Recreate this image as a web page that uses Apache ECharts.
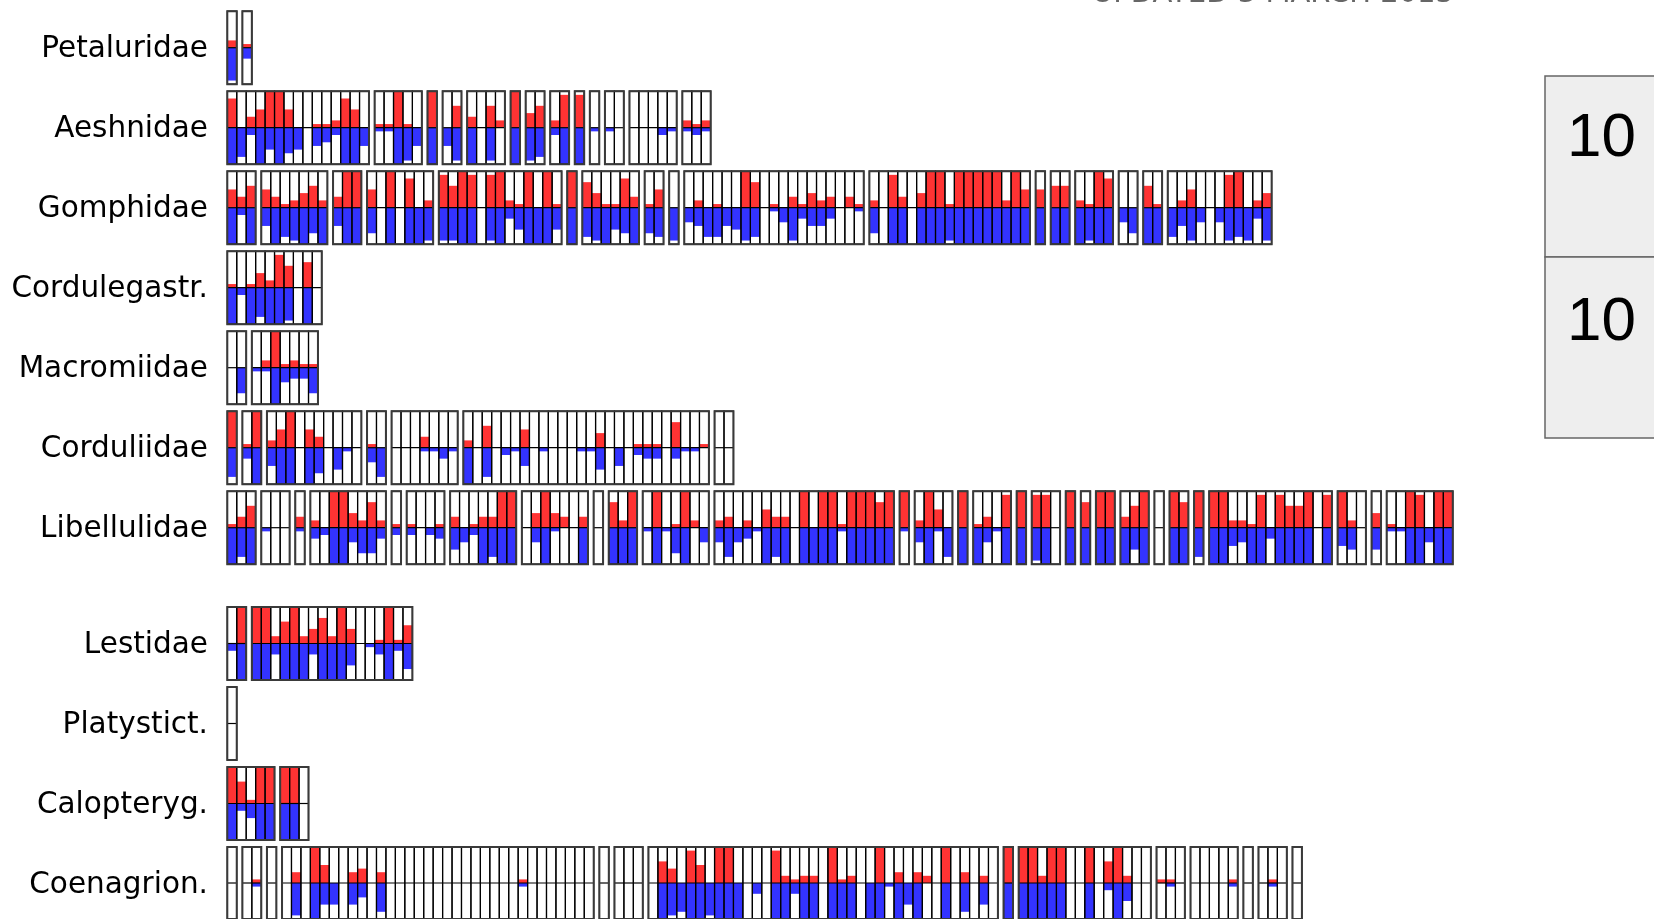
<!DOCTYPE html>
<html>
<head>
<meta charset="utf-8">
<script src="https://cdn.jsdelivr.net/npm/echarts@6/dist/echarts.min.js"></script>
<style>
html,body{margin:0;padding:0;background:#fff;}
#chart{width:1654px;height:919px;}
</style>
</head>
<body>
<div id="chart"></div>
<script>
// ---- DATA: each family = list of genus groups, each group = list of [red, blue] per species (0..10)
const FAMILIES = ['Petaluridae','Aeshnidae','Gomphidae','Cordulegastr.','Macromiidae','Corduliidae','Libellulidae','Lestidae','Platystict.','Calopteryg.','Coenagrion.'];

const PETALURIDAE = [[[2,9]],[[1,3]]];

const AESHNIDAE = [
 [[8,10],[0,8],[3,2],[5,10],[10,6],[10,10],[5,7],[0,6],[0,0],[1,5],[1,4],[2,2],[8,10],[5,10],[0,5]],
 [[1,1],[1,1],[10,10],[1,9],[0,5]],
 [[10,10]],
 [[0,5],[6,9]],
 [[3,10],[0,0],[6,9],[2,0]],
 [[10,10]],
 [[4,9],[6,8]],
 [[2,2],[9,10]],
 [[9,10]],
 [[0,1]],
 [[0,1],[0,0]],
 [[0,0],[0,0],[0,0],[0,2],[0,1]],
 [[2,1],[1,2],[2,1]]
];

const GOMPHIDAE = [
 [[5,10],[3,2],[6,10]],
 [[5,5],[3,10],[1,8],[2,9],[4,10],[6,7],[2,10]],
 [[3,5],[10,10],[10,10]],
 [[5,7],[0,0],[10,10],[0,0],[8,10],[0,10],[2,9]],
 [[9,9],[6,9],[10,10],[9,10],[0,0],[9,9],[10,10],[2,3],[1,6],[10,10],[0,10],[10,10],[1,6]],
 [[10,10]],
 [[7,8],[4,9],[1,10],[1,6],[8,7],[3,10]],
 [[1,7],[5,8]],
 [[0,9]],
 [[0,4],[2,5],[0,8],[1,8],[0,5],[0,6],[10,9],[7,8],[0,0],[1,1],[0,4],[3,9],[1,3],[4,5],[2,5],[3,3],[0,0],[3,0],[1,1]],
 [[2,7],[0,0],[9,10],[3,10],[0,0],[4,10],[10,10],[10,10],[1,9],[10,10],[10,10],[10,10],[10,10],[10,10],[2,10],[10,10],[5,10]],
 [[5,10]],
 [[6,10],[6,10]],
 [[2,10],[1,9],[10,10],[8,10]],
 [[0,4],[0,7]],
 [[6,10],[1,10]],
 [[0,8],[2,5],[5,9],[0,4],[0,0],[0,4],[9,9],[10,8],[0,9],[2,3],[4,9]]
];

const CORDULEGASTR = [
 [[1,10],[0,2],[1,10],[4,8],[2,10],[9,10],[6,9],[0,0],[7,10],[0,0]]
];

const MACROMIIDAE = [
 [[0,0],[0,7]],
 [[0,1],[2,1],[10,10],[1,4],[2,3],[1,3],[1,7]]
];

const CORDULIIDAE = [
 [[10,8]],
 [[1,3],[10,10]],
 [[2,5],[5,10],[10,10],[0,0],[5,10],[3,7],[0,0],[0,6],[0,1],[0,0]],
 [[1,4],[0,8]],
 [[0,0],[0,0],[0,0],[3,1],[0,1],[0,3],[0,1]],
 [[2,10],[0,0],[6,8],[0,0],[0,2],[0,1],[5,5],[0,0],[0,1],[0,0],[0,0],[0,0],[0,1],[0,1],[4,6],[0,0],[0,5],[0,0],[1,2],[1,3],[1,3],[0,0],[7,3],[0,1],[0,1],[1,0]],
 [[0,0],[0,0]]
];

const LIBELLULIDAE = [
 [[1,10],[3,8],[6,10]],
 [[0,1],[0,0],[0,0]],
 [[3,1]],
 [[2,3],[0,2],[10,10],[10,10],[4,4],[2,7],[7,7],[2,3]],
 [[1,2]],
 [[1,2],[0,0],[0,2],[1,3]],
 [[3,6],[0,4],[1,2],[3,10],[3,8],[10,10],[10,10]],
 [[0,0],[4,4],[10,10],[4,1],[3,0],[0,0],[3,10]],
 [[0,0]],
 [[7,10],[2,10],[10,10]],
 [[0,1],[10,10],[0,1],[1,7],[10,10],[2,0],[0,4]],
 [[2,4],[3,8],[0,4],[2,3],[0,1],[5,10],[3,8],[3,10],[0,0],[10,10],[0,10],[10,10],[10,10],[1,1],[10,10],[10,10],[10,10],[7,10],[10,10]],
 [[10,1]],
 [[2,4],[10,10],[5,1],[0,8]],
 [[10,10]],
 [[1,10],[3,4],[0,1],[9,10]],
 [[10,10]],
 [[9,9],[9,10],[0,0]],
 [[10,10]],
 [[7,10]],
 [[10,10],[10,10]],
 [[3,10],[6,6],[10,10]],
 [[0,0]],
 [[10,10],[7,10]],
 [[10,8]],
 [[10,10],[10,10],[2,5],[2,4],[1,10],[9,10],[0,3],[9,10],[6,10],[6,10],[10,10],[0,0],[9,10]],
 [[10,5],[2,6],[0,0]],
 [[4,6]],
 [[1,1],[0,1],[10,10],[9,10],[0,4],[10,10],[10,10]]
];

const LESTIDAE = [
 [[0,2],[10,10]],
 [[10,10],[10,10],[2,3],[6,10],[10,10],[2,10],[4,3],[7,10],[2,10],[10,10],[4,6],[0,0],[0,1],[1,3],[10,10],[1,2],[5,7]]
];

const PLATYSTICT = [[[0,0]]];

const CALOPTERYG = [
 [[10,10],[6,2],[1,4],[10,10],[10,10]],
 [[10,10],[10,10],[0,0]]
];

const COENAGRION = [
 [[0,0]],
 [[0,0],[1,1]],
 [[0,0]],
 [[0,0],[3,9],[0,0],[10,10],[5,6],[0,6],[0,0],[3,6],[4,4],[0,0],[3,8],[0,0],[0,0],[0,0],[0,0],[0,0],[0,0],[0,0],[0,0],[0,0],[0,0],[0,0],[0,0],[0,0],[0,0],[1,1],[0,0],[0,0],[0,0],[0,0],[0,0],[0,0],[0,0]],
 [[0,0]],
 [[0,0],[0,0],[0,0]],
 [[0,0],[6,10],[4,9],[0,8],[9,10],[5,10],[0,9],[10,10],[10,10],[0,10],[0,0],[0,3],[0,0],[9,10],[2,10],[1,3],[2,10],[2,10],[0,0],[10,10],[1,10],[2,10],[0,0],[0,10],[10,10],[0,1],[3,10],[0,6],[3,10],[2,0],[0,0],[10,10],[0,0],[3,8],[0,0],[2,6],[0,0]],
 [[10,10]],
 [[10,10],[10,10],[2,10],[10,10],[10,10],[0,0],[0,0],[10,10],[0,0],[6,2],[10,10],[2,5],[0,0],[0,0]],
 [[1,0],[1,1],[0,0]],
 [[0,0],[0,0],[0,0],[0,0],[1,1]],
 [[0,0]],
 [[0,0],[1,1],[0,0]],
 [[0,0]]
];

const FAMILY_DATA = [PETALURIDAE, AESHNIDAE, GOMPHIDAE, CORDULEGASTR, MACROMIIDAE, CORDULIIDAE, LIBELLULIDAE, LESTIDAE, PLATYSTICT, CALOPTERYG, COENAGRION];
const SCALE_LABELS = ['10','10'];
const UPDATED = 'UPDATED 3 MARCH 2015';

// ---- LAYOUT
const CELL_PX = 9.445;
const GAP = 5.65 / CELL_PX;          // gap between genera, in cell units
const GRID_LEFT = 227.3;
const GRID_W = 1300;
const X_MAX = GRID_W / CELL_PX;
const HALF = 36.5;
function rowCenter(i){ return i < 7 ? 47.7 + 80 * i : 643.5 + 80 * (i - 7); }

const RED = '#FF3333', BLUE = '#3333FF';

const grids = [], xAxes = [], yAxes = [], series = [], graphics = [];

FAMILY_DATA.forEach((groups, fi) => {
  const c = rowCenter(fi);
  grids.push({left: GRID_LEFT, width: GRID_W, top: c - HALF, height: 2 * HALF});
  xAxes.push({type:'value', gridIndex: fi, min: 0, max: X_MAX, show: false});
  yAxes.push({type:'value', gridIndex: fi, min: -10, max: 10, show: false});

  const cells = [], groupBoxes = [];
  let x = 0;
  groups.forEach((g, gi) => {
    const x0 = x;
    g.forEach(v => { cells.push([x, v[0], v[1]]); x += 1; });
    groupBoxes.push([x0, g.length]);
    x += GAP;
  });

  // bar fills
  series.push({
    type: 'custom', xAxisIndex: fi, yAxisIndex: fi, data: cells, silent: true, animation: false, z: 2,
    renderItem(params, api) {
      const x = api.value(0), r = api.value(1), b = api.value(2);
      const p0 = api.coord([x, 0]);
      const pr = api.coord([x + 1, r]);
      const pb = api.coord([x + 1, -b]);
      return {type: 'group', children: [
        {type: 'rect', shape: {x: p0[0], y: pr[1], width: pr[0] - p0[0], height: p0[1] - pr[1]}, style: {fill: RED}},
        {type: 'rect', shape: {x: p0[0], y: p0[1], width: pb[0] - p0[0], height: pb[1] - p0[1]}, style: {fill: BLUE}}
      ]};
    }
  });
  // cell outlines
  series.push({
    type: 'custom', xAxisIndex: fi, yAxisIndex: fi, data: cells, silent: true, animation: false, z: 3,
    renderItem(params, api) {
      const x = api.value(0);
      const a = api.coord([x, 10]);
      const b = api.coord([x + 1, -10]);
      return {type: 'rect', shape: {x: a[0], y: a[1], width: b[0] - a[0], height: b[1] - a[1]},
        style: {fill: null, stroke: '#000', lineWidth: 1.2}};
    }
  });
  // genus outlines + zero line
  series.push({
    type: 'custom', xAxisIndex: fi, yAxisIndex: fi, data: groupBoxes, silent: true, animation: false, z: 4,
    renderItem(params, api) {
      const x0 = api.value(0), n = api.value(1);
      const a = api.coord([x0, 10]);
      const b = api.coord([x0 + n, -10]);
      const m = api.coord([x0, 0]);
      return {type: 'group', children: [
        {type: 'line', shape: {x1: a[0], y1: m[1], x2: b[0], y2: m[1]}, style: {stroke: '#000', lineWidth: 1.2}},
        {type: 'rect', shape: {x: a[0], y: a[1], width: b[0] - a[0], height: b[1] - a[1]},
          style: {fill: null, stroke: '#3a3a3a', lineWidth: 2}}
      ]};
    }
  });

  graphics.push({type: 'text', x: 208, y: c + 2, silent: true,
    style: {text: FAMILIES[fi], fill: '#000', font: '29.5px "DejaVu Sans"', textAlign: 'right', textVerticalAlign: 'middle'}});
});

// scale box on the right
graphics.push({type: 'rect', shape: {x: 1545, y: 76, width: 130, height: 181}, style: {fill: '#eeeeee', stroke: '#666', lineWidth: 1.5}});
graphics.push({type: 'rect', shape: {x: 1545, y: 257, width: 130, height: 181}, style: {fill: '#eeeeee', stroke: '#666', lineWidth: 1.5}});
graphics.push({type: 'text', x: 1567, y: 139, style: {text: SCALE_LABELS[0], fill: '#000', font: '62px "Liberation Sans"', textAlign: 'left', textVerticalAlign: 'middle'}});
graphics.push({type: 'text', x: 1567, y: 323, style: {text: SCALE_LABELS[1], fill: '#000', font: '62px "Liberation Sans"', textAlign: 'left', textVerticalAlign: 'middle'}});
graphics.push({type: 'text', x: 1092, y: 9, style: {text: UPDATED, fill: '#666', font: '29px "DejaVu Sans"', textAlign: 'left', textVerticalAlign: 'bottom'}});

const chart = echarts.init(document.getElementById('chart'), null, {renderer: 'canvas'});
chart.setOption({
  animation: false,
  backgroundColor: '#fff',
  grid: grids, xAxis: xAxes, yAxis: yAxes,
  series: series,
  graphic: graphics
});
</script>
</body>
</html>
